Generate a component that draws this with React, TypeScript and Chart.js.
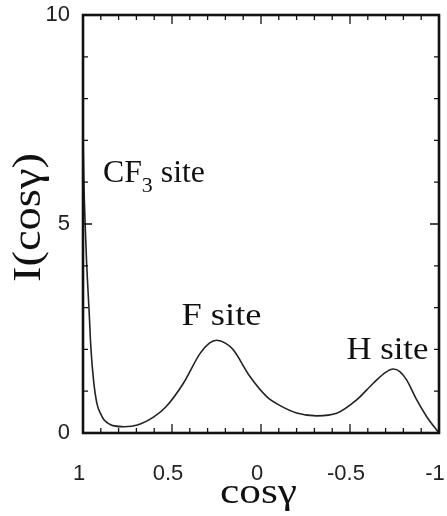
import React, { useEffect, useRef } from 'react';
import { Chart, registerables } from 'chart.js';

Chart.register(...registerables);

// ---- data ----
const cosGamma = [
  1.0, 0.995, 0.988, 0.98, 0.975, 0.965, 0.956, 0.941, 0.922, 0.9, 0.881, 0.85, 0.825,
  0.768, 0.694, 0.6, 0.535, 0.436, 0.343, 0.29, 0.249, 0.2, 0.156, 0.062, -0.032, -0.105,
  -0.2, -0.313, -0.425, -0.537, -0.631, -0.7, -0.743, -0.78, -0.818, -0.875, -0.931, -0.987, -1.0,
];
const intensity = [
  7.2, 6.0, 5.0, 4.1, 3.66, 2.86, 2.06, 1.27, 0.71, 0.45, 0.31, 0.21, 0.17,
  0.15, 0.19, 0.39, 0.62, 1.19, 1.9, 2.15, 2.22, 2.15, 1.99, 1.35, 0.87, 0.66,
  0.48, 0.41, 0.47, 0.79, 1.19, 1.45, 1.53, 1.47, 1.27, 0.79, 0.39, 0.07, 0,
];
const xTickValues = [1, 0.5, 0, -0.5, -1];
const xTickLabels = ['1', '0.5', '0', '-0.5', '-1'];
const yTickValues = [0, 5, 10];
const yTickLabels = ['0', '5', '10'];
const xTitle = 'cosγ';
const yTitle = 'I(cosγ)';
const siteNames = ['CF', 'F site', 'H site'];
const siteAnchorX = [0.888, 0.447, -0.48];
const siteAnchorY = [6.01, 2.59, 1.76];

const SERIF = '"Liberation Serif", "Times New Roman", serif';
const SANS = '"Liberation Sans", Arial, sans-serif';

type Part = { text: string; size: number; dy?: number };

function drawParts(ctx: CanvasRenderingContext2D, parts: Part[], targetWidth: number) {
  let natural = 0;
  for (const p of parts) {
    ctx.font = `${p.size}px ${SERIF}`;
    natural += ctx.measureText(p.text).width;
  }
  const s = targetWidth / natural;
  ctx.save();
  ctx.scale(s, 1);
  let cx = 0;
  for (const p of parts) {
    ctx.font = `${p.size}px ${SERIF}`;
    ctx.fillText(p.text, cx, p.dy || 0);
    cx += ctx.measureText(p.text).width;
  }
  ctx.restore();
}

const framePlugin = {
  id: 'frameAndText',
  afterDatasetsDraw(chart: any) {
    const ctx: CanvasRenderingContext2D = chart.ctx;
    const { left, top, right, bottom } = chart.chartArea;
    const xs = chart.scales.x;
    const ys = chart.scales.y;
    ctx.save();
    ctx.strokeStyle = '#111';
    ctx.lineWidth = 1.3;
    ctx.beginPath();
    for (let i = -10; i <= 10; i++) {
      const px = xs.getPixelForValue(i / 10);
      const len = i % 5 === 0 ? 9 : 5;
      ctx.moveTo(px, bottom);
      ctx.lineTo(px, bottom - len);
      ctx.moveTo(px, top);
      ctx.lineTo(px, top + len);
    }
    for (let j = 0; j <= 10; j++) {
      const py = ys.getPixelForValue(j);
      const len = j % 5 === 0 ? 9 : 5;
      ctx.moveTo(left, py);
      ctx.lineTo(left + len, py);
      ctx.moveTo(right, py);
      ctx.lineTo(right - len, py);
    }
    ctx.stroke();
    ctx.lineWidth = 2.6;
    ctx.strokeRect(left, top, right - left, bottom - top);

    // site labels
    ctx.fillStyle = '#111';
    ctx.textBaseline = 'alphabetic';
    ctx.textAlign = 'left';
    const labelParts: Part[][] = [
      [{ text: siteNames[0], size: 32 }, { text: '3', size: 22, dy: 10 }, { text: ' site', size: 32 }],
      [{ text: siteNames[1], size: 32 }],
      [{ text: siteNames[2], size: 32 }],
    ];
    const widths = [102, 80, 82];
    for (let k = 0; k < labelParts.length; k++) {
      ctx.save();
      ctx.translate(xs.getPixelForValue(siteAnchorX[k]), ys.getPixelForValue(siteAnchorY[k]));
      drawParts(ctx, labelParts[k], widths[k]);
      ctx.restore();
    }

    // axis titles
    ctx.save();
    ctx.translate((left + right) / 2 - 2.5 - 38.5, chart.height - 13);
    drawParts(ctx, [{ text: xTitle, size: 36 }], 77);
    ctx.restore();

    ctx.save();
    ctx.translate(left - 43, (top + bottom) / 2 - 6.5);
    ctx.rotate(-Math.PI / 2);
    ctx.translate(-64.5, 0);
    drawParts(ctx, [{ text: yTitle, size: 40 }], 129);
    ctx.restore();

    ctx.restore();
  },
};

export default function App() {
  const ref = useRef<HTMLCanvasElement>(null);
  useEffect(() => {
    if (!ref.current) return;
    const chart = new Chart(ref.current, {
      type: 'scatter',
      data: {
        datasets: [
          {
            data: cosGamma.map((c, i) => ({ x: c, y: intensity[i] })),
            showLine: true,
            borderColor: '#222',
            borderWidth: 1.6,
            pointRadius: 0,
            cubicInterpolationMode: 'monotone',
            fill: false,
          },
        ],
      },
      options: {
        responsive: false,
        animation: false,
        events: [],
        layout: { padding: { left: 0, top: 15, right: 8, bottom: 0 } },
        plugins: { legend: { display: false }, tooltip: { enabled: false } },
        scales: {
          x: {
            type: 'linear',
            reverse: true,
            min: -1,
            max: 1,
            grid: { display: false, drawTicks: false },
            border: { display: false },
            afterBuildTicks: (s: any) => {
              s.ticks = xTickValues.map((v) => ({ value: v }));
            },
            afterFit: (s: any) => {
              s.height = 83;
              s.paddingLeft = 0;
              s.paddingRight = 0;
            },
            ticks: {
              autoSkip: false,
              maxRotation: 0,
              padding: 28,
              labelOffset: -4,
              color: '#222',
              font: { family: SANS, size: 22 },
              callback: (v: any) => xTickLabels[xTickValues.indexOf(Number(v))] ?? '',
            },
          },
          y: {
            type: 'linear',
            min: 0,
            max: 10,
            grid: { display: false, drawTicks: false },
            border: { display: false },
            afterBuildTicks: (s: any) => {
              s.ticks = yTickValues.map((v) => ({ value: v }));
            },
            afterFit: (s: any) => {
              s.width = 83;
              s.paddingTop = 0;
              s.paddingBottom = 0;
            },
            ticks: {
              autoSkip: false,
              padding: 13,
              color: '#222',
              font: { family: SANS, size: 22 },
              callback: (v: any) => yTickLabels[yTickValues.indexOf(Number(v))] ?? '',
            },
          },
        },
      },
      plugins: [framePlugin],
    } as any);
    return () => chart.destroy();
  }, []);
  return (
    <div style={{ position: 'fixed', left: 0, top: 0, width: 447, height: 516, background: '#fff' }}>
      <canvas ref={ref} width={447} height={516} style={{ display: 'block' }} />
    </div>
  );
}
